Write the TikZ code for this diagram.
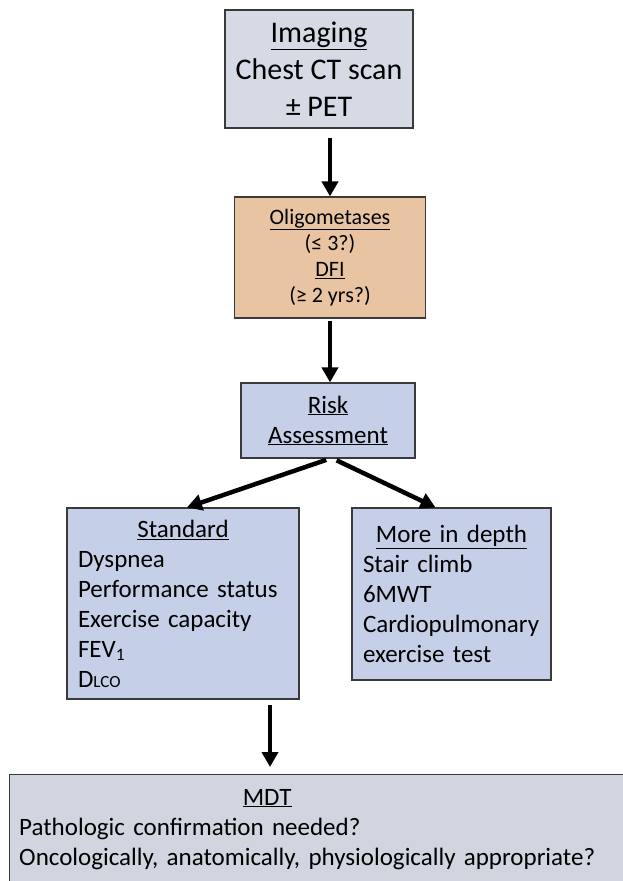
\documentclass[tikz,border=0pt]{standalone}
\usepackage{fontspec}
\setmainfont{Carlito}
\usepackage{tikz}
\usetikzlibrary{arrows.meta}
\definecolor{imgfill}{HTML}{D6DAE4}
\definecolor{oligofill}{HTML}{E8C4A2}
\definecolor{riskfill}{HTML}{C5D0E8}
\definecolor{mdtfill}{HTML}{D0D5E0}
\definecolor{edge}{HTML}{3A3A3A}

\begin{document}
\begin{tikzpicture}[x=1pt,y=-1pt,
	box/.style={draw=edge,line width=1.2pt,inner sep=0pt,align=center},
	flow/.style={line width=4.5pt,-{Triangle[length=15pt,width=16pt]}}]
	%% page
	\useasboundingbox (0,0) rectangle (623,881);
	\clip (0,0) rectangle (623,881);
	%% boxes
	\node[box,fill=imgfill,minimum width=188pt,minimum height=118pt,font=\fontsize{30}{37}\selectfont] (imaging) at (319,69) {\underline{Imaging}\\Chest CT scan\\± PET};
	\node[box,fill=oligofill,minimum width=191pt,minimum height=121pt,font=\fontsize{22}{26}\selectfont] (oligo) at (330,257.5) {\underline{Oligometases}\\(≤ 3?)\\\underline{DFI}\\(≥ 2 yrs?)};
	\node[box,fill=riskfill,minimum width=174pt,minimum height=75pt,font=\fontsize{25}{30}\selectfont] (risk) at (328,420.5) {\underline{Risk}\\\underline{Assessment}};
	\node[box,fill=riskfill,text width=210pt,inner xsep=11pt,minimum height=191pt,align=left,font=\fontsize{25}{30}\selectfont] (standard) at (183,603.5) {\makebox[\linewidth]{\underline{Standard}}\\Dyspnea\\Performance status\\Exercise capacity\\FEV\textsubscript{1}\\D{\fontsize{17}{30}\selectfont LCO}};
	\node[box,fill=riskfill,text width=177pt,inner xsep=11pt,minimum height=172pt,align=left,font=\fontsize{25}{30}\selectfont] (depth) at (451.5,594) {\makebox[\linewidth]{\underline{More in depth}}\\Stair climb\\6MWT\\Cardiopulmonary\\exercise test};
	\node[box,fill=mdtfill,minimum width=660pt,minimum height=140pt,anchor=north west] (mdt) at (9,774) {};
	\node[anchor=north west,text width=600pt,inner sep=0pt,align=left,font=\fontsize{25}{30}\selectfont] (mdttext) at ([shift={(10pt,-15pt)}]mdt.north west) {\makebox[496pt]{\underline{MDT}}\\Pathologic confirmation needed?\\Oncologically, anatomically, physiologically appropriate?};
	%% arrows
	\coordinate (split) at (270,705);
	\draw[flow,shorten <=9pt] ([xshift=11pt]imaging.south) -- (oligo.north);
	\draw[flow,shorten <=2pt] (oligo.south) -- (oligo.south |- risk.north);
	\draw[flow,shorten <=4pt] ([xshift=2pt]risk.south) -- ([xshift=4pt]standard.north);
	\draw[flow,shorten <=4pt] ([xshift=5pt]risk.south) -- ([xshift=-16pt]depth.north);
	\draw[flow,shorten >=7pt] (split) -- (split |- mdt.north);
\end{tikzpicture}
\end{document}
